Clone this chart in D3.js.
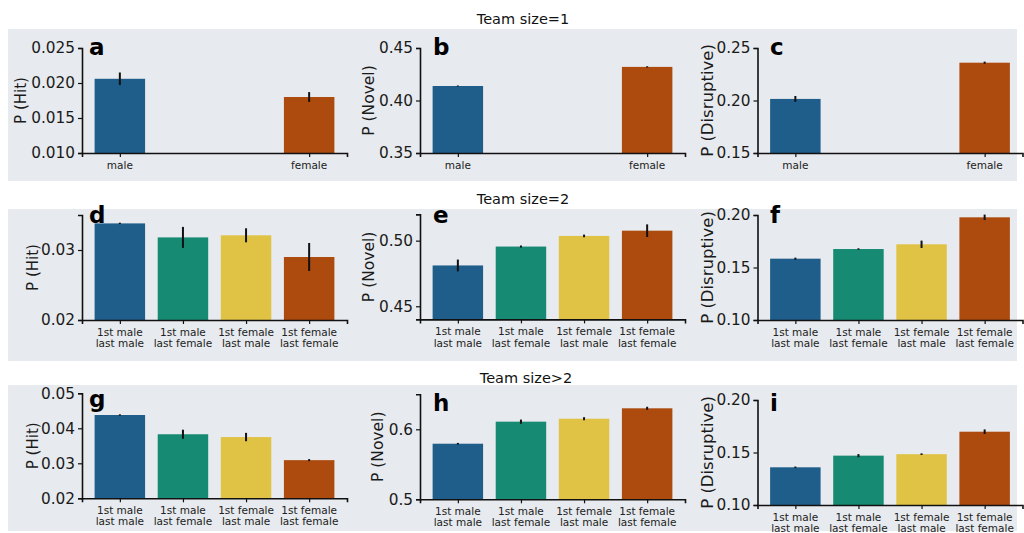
<!DOCTYPE html>
<html><head><meta charset="utf-8">
<script src="https://cdn.jsdelivr.net/npm/d3@7"></script>
<style>
body{margin:0;background:#fff;}
svg{display:block;}
text{font-family:"DejaVu Sans",sans-serif;}
</style></head><body>
<svg id="chart" width="1024" height="533"></svg>
<script>
// ---------- data ----------
const rowTitles = ["Team size=1", "Team size=2", "Team size>2"];
const categoriesSingle = ["male", "female"];
const slotsSingle = [0, 3];
const categoriesPair = ["1st male|last male", "1st male|last female", "1st female|last male", "1st female|last female"];
const slotsPair = [0, 1, 2, 3];
const colorsSingle = ["#1f5d8a", "#ad4a0e"];
const colorsPair = ["#1f5d8a", "#178a73", "#e0c345", "#ad4a0e"];
const yLabels = ["P (Hit)", "P (Novel)", "P (Disruptive)"];
const panelLetters = ["a","b","c","d","e","f","g","h","i"];

const hitSingle = [0.0206, 0.0180];
const hitSingleErr = [0.0009, 0.0007];
const novelSingle = [0.4138, 0.4320];
const novelSingleErr = [0.0005, 0.0006];
const disruptSingle = [0.2015, 0.2360];
const disruptSingleErr = [0.0028, 0.0010];

const hitPair = [0.0338, 0.0318, 0.0321, 0.0290];
const hitPairErr = [0.0001, 0.0015, 0.0010, 0.0020];
const novelPair = [0.4811, 0.4955, 0.5036, 0.5076];
const novelPairErr = [0.0045, 0.0008, 0.0010, 0.0048];
const disruptPair = [0.1584, 0.1676, 0.1721, 0.1978];
const disruptPairErr = [0.0010, 0.0007, 0.0035, 0.0026];

const hitTeam = [0.0438, 0.0383, 0.0375, 0.0309];
const hitTeamErr = [0.0002, 0.0013, 0.0012, 0.0003];
const novelTeam = [0.5794, 0.6109, 0.6151, 0.6300];
const novelTeamErr = [0.0012, 0.0030, 0.0022, 0.0022];
const disruptTeam = [0.1359, 0.1470, 0.1484, 0.1698];
const disruptTeamErr = [0.0007, 0.0015, 0.0008, 0.0022];

const yDomains = [[0.010,0.025],[0.35,0.45],[0.15,0.25],
                  [0.02,0.035],[0.44,0.52],[0.10,0.20],
                  [0.02,0.05],[0.5,0.65],[0.10,0.20]];
const yTicks = [[0.010,0.015,0.020,0.025],[0.35,0.40,0.45],[0.15,0.20,0.25],
                [0.02,0.03],[0.45,0.50],[0.10,0.15,0.20],
                [0.02,0.03,0.04,0.05],[0.5,0.6],[0.10,0.15,0.20]];
const yFormats = [".3f",".2f",".2f",".2f",".2f",".2f",".2f",".1f",".2f"];

// ---------- layout ----------
const svg = d3.select("#chart");
const bands = [[8,29,1009,152],[8,209,1009,152],[8,385,1009,146]];
const titlePos = [[523,24],[523,204],[526,383]];
const colLeft = [82, 420, 757.5];
const rowTop = [[48,48,48],[215,214.4,215],[393.3,394.3,400]];
const yLabelX = [[21,369,707],[33,369,707],[33,378,707]];
const yLabelSize = [15, 15.5, 16.5];
const letterPos = [[[89,55],[433,55],[770,55]],[[89,223],[433,223],[770,223]],[[89,407],[433,411],[770,411]]];
const axW = 265, axH = 105;

bands.forEach(b => svg.append("rect").attr("x",b[0]).attr("y",b[1]).attr("width",b[2]).attr("height",b[3]).attr("fill","#e7eaee"));
rowTitles.forEach((t,i)=> svg.append("text").attr("x",titlePos[i][0]).attr("y",titlePos[i][1])
  .attr("text-anchor","middle").attr("font-size",14.5).attr("fill","#111").text(t));

const rows = [
  {cats:categoriesSingle, slots:slotsSingle, colors:colorsSingle, vals:[hitSingle,novelSingle,disruptSingle], errs:[hitSingleErr,novelSingleErr,disruptSingleErr]},
  {cats:categoriesPair, slots:slotsPair, colors:colorsPair, vals:[hitPair,novelPair,disruptPair], errs:[hitPairErr,novelPairErr,disruptPairErr]},
  {cats:categoriesPair, slots:slotsPair, colors:colorsPair, vals:[hitTeam,novelTeam,disruptTeam], errs:[hitTeamErr,novelTeamErr,disruptTeamErr]}
];

rows.forEach((row, r) => {
  for (let c = 0; c < 3; c++) {
    const k = r*3 + c;
    const left = colLeft[c], top = rowTop[r][c];
    const g = svg.append("g");
    const x = d3.scaleLinear().domain([-0.6, 3.6]).range([left, left+axW]);
    const y = d3.scaleLinear().domain(yDomains[k]).range([top+axH, top]);
    const bw = x(0.4) - x(-0.4);
    const vals = row.vals[c], errs = row.errs[c];
    const d = vals.map((v,i)=>({v, e:errs[i], s:row.slots[i], col:row.colors[i], cat:row.cats[i]}));
    g.selectAll("rect.bar").data(d).join("rect").attr("class","bar")
      .attr("x", e=>x(e.s)-bw/2).attr("width", bw)
      .attr("y", e=>y(e.v)).attr("height", e=>y(yDomains[k][0])-y(e.v))
      .attr("fill", e=>e.col);
    g.selectAll("line.err").data(d).join("line").attr("class","err")
      .attr("x1", e=>x(e.s)).attr("x2", e=>x(e.s))
      .attr("y1", e=>y(e.v-e.e)).attr("y2", e=>y(e.v+e.e))
      .attr("stroke","#111").attr("stroke-width",2);
    // y axis
    const ya = d3.axisLeft(y).tickValues(yTicks[k]).tickFormat(d3.format(yFormats[k])).tickSizeOuter(0).tickSize(4).tickPadding(3);
    const yg = g.append("g").attr("transform",`translate(${left},0)`).call(ya);
    yg.select(".domain").attr("stroke","#111").attr("stroke-width",1.6);
    yg.selectAll(".tick line").attr("stroke","#111").attr("stroke-width",1.2);
    yg.selectAll(".tick text").attr("font-size",15.3).attr("fill","#1a1a1a").attr("font-family","DejaVu Sans");
    // x axis
    const xa = d3.axisBottom(x).tickValues(row.slots).tickFormat("").tickSizeOuter(0).tickSize(4);
    const xg = g.append("g").attr("transform",`translate(0,${top+axH})`).call(xa);
    xg.select(".domain").attr("stroke","#111").attr("stroke-width",1.6);
    xg.selectAll(".tick line").attr("stroke","#111").attr("stroke-width",1.2);
    // x labels
    d.forEach(e => {
      const lines = e.cat.split("|");
      const t = g.append("text").attr("x", x(e.s)).attr("y", top+axH+15.5).attr("text-anchor","middle")
        .attr("font-size",10.5).attr("fill","#222");
      lines.forEach((ln,li)=> t.append("tspan").attr("x",x(e.s)).attr("dy", li===0?0:11.6).text(ln));
    });
    // y label
    g.append("text").attr("transform",`translate(${yLabelX[r][c]},${top+axH/2}) rotate(-90)`)
      .attr("text-anchor","middle").attr("dominant-baseline","central")
      .attr("font-size",yLabelSize[c]).attr("fill","#1a1a1a").text(yLabels[c]);
    // panel letter
    g.append("text").attr("x",letterPos[r][c][0]).attr("y",letterPos[r][c][1])
      .attr("font-family","Liberation Sans, Arial, sans-serif").attr("font-weight","bold")
      .attr("font-size",23).attr("fill","#000").text(panelLetters[k]);
  }
});
</script></body></html>
